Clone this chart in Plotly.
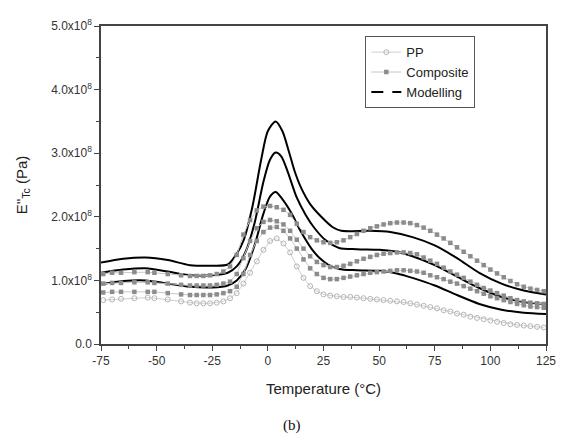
import plotly.graph_objects as go

# ---- data (E'' in units of 1e8 Pa) ----
T_exp = [-74, -70, -66, -60, -54, -51, -45, -39, -35, -32, -29, -26, -23, -20,
         -17, -14, -11, -8, -5, -2, 1, 4, 7, 10, 13, 16, 19, 22, 25, 28, 31, 34,
         37, 40, 43, 46, 49, 52, 55, 58, 61, 64, 67, 70, 73, 76, 79, 82, 85, 88,
         91, 94, 97, 100, 103, 106, 109, 112, 115, 118, 121, 124]

pp = [0.69, 0.70, 0.71, 0.72, 0.73, 0.72, 0.70, 0.67, 0.65, 0.64, 0.64, 0.64, 0.65, 0.67,
      0.72, 0.80, 0.95, 1.12, 1.30, 1.48, 1.62, 1.66, 1.58, 1.44, 1.22, 1.04, 0.91, 0.83,
      0.78, 0.76, 0.75, 0.74, 0.74, 0.73, 0.72, 0.71, 0.70, 0.69, 0.68, 0.67, 0.66, 0.64,
      0.62, 0.60, 0.58, 0.56, 0.53, 0.51, 0.48, 0.46, 0.43, 0.41, 0.39, 0.37, 0.35, 0.33,
      0.31, 0.30, 0.29, 0.28, 0.27, 0.26]

comp_low = [0.81, 0.82, 0.82, 0.82, 0.82, 0.82, 0.80, 0.78, 0.77, 0.77, 0.77, 0.77, 0.78, 0.80,
            0.83, 0.90, 1.10, 1.40, 1.62, 1.76, 1.83, 1.84, 1.78, 1.66, 1.50, 1.33, 1.19, 1.10,
            1.04, 1.02, 1.02, 1.04, 1.06, 1.08, 1.10, 1.12, 1.13, 1.14, 1.15, 1.16, 1.16, 1.15,
            1.14, 1.12, 1.08, 1.05, 1.02, 0.98, 0.95, 0.91, 0.87, 0.83, 0.79, 0.75, 0.72, 0.69,
            0.66, 0.63, 0.61, 0.59, 0.58, 0.57]

comp_mid = [0.95, 0.96, 0.96, 0.97, 0.97, 0.96, 0.95, 0.93, 0.92, 0.92, 0.92, 0.92, 0.93, 0.95,
            0.98, 1.10, 1.35, 1.62, 1.82, 1.92, 1.95, 1.93, 1.88, 1.78, 1.64, 1.50, 1.38, 1.29,
            1.24, 1.21, 1.21, 1.23, 1.26, 1.30, 1.34, 1.37, 1.40, 1.42, 1.43, 1.44, 1.44, 1.43,
            1.41, 1.36, 1.31, 1.26, 1.20, 1.14, 1.09, 1.04, 0.98, 0.93, 0.88, 0.84, 0.80, 0.76,
            0.72, 0.69, 0.67, 0.65, 0.64, 0.63]

comp_high = [1.10, 1.12, 1.12, 1.13, 1.13, 1.12, 1.10, 1.08, 1.07, 1.07, 1.07, 1.08, 1.10, 1.14,
             1.22, 1.40, 1.72, 1.95, 2.10, 2.16, 2.17, 2.15, 2.11, 2.03, 1.89, 1.76, 1.68, 1.63,
             1.60, 1.59, 1.60, 1.63, 1.68, 1.73, 1.78, 1.82, 1.85, 1.88, 1.90, 1.91, 1.91, 1.90,
             1.87, 1.83, 1.78, 1.72, 1.66, 1.59, 1.52, 1.45, 1.38, 1.31, 1.24, 1.17, 1.11, 1.05,
             0.99, 0.94, 0.90, 0.87, 0.85, 0.83]

T_m3 = [-75, -65, -55, -45, -35, -25, -18, -14, -11, -7, -3, 0, 3.5, 6.5, 9.5, 12, 15, 19, 24, 29,
        33, 45, 55, 65, 75, 85, 95, 105, 115, 125]
mod_high = [1.28, 1.34, 1.36, 1.32, 1.24, 1.23, 1.25, 1.42, 1.62, 2.15, 2.90, 3.35, 3.50, 3.35, 3.02,
            2.72, 2.45, 2.20, 2.00, 1.84, 1.78, 1.78, 1.76, 1.68, 1.55, 1.35, 1.12, 0.95, 0.84, 0.78]

T_m2 = [-75, -65, -55, -45, -35, -25, -18, -14, -10, -6, -2, 1, 3.5, 6, 9, 13, 17, 21, 26, 32,
        40, 50, 58, 65, 75, 85, 95, 105, 115, 125]
mod_mid = [1.12, 1.17, 1.19, 1.14, 1.08, 1.08, 1.12, 1.22, 1.45, 1.90, 2.55, 2.90, 3.01, 2.95, 2.70,
           2.30, 2.03, 1.82, 1.63, 1.51, 1.49, 1.48, 1.45, 1.38, 1.24, 1.06, 0.88, 0.74, 0.66, 0.63]

T_m1 = [-75, -65, -55, -45, -35, -25, -18, -14, -10, -6, -2, 1, 3.5, 6, 10.7, 14, 17, 20, 23, 27,
        32, 40, 50, 58, 65, 75, 85, 95, 105, 115, 125]
mod_low = [0.94, 0.99, 1.00, 0.95, 0.90, 0.89, 0.92, 1.00, 1.18, 1.55, 2.05, 2.32, 2.39, 2.30, 2.05,
           1.82, 1.64, 1.48, 1.36, 1.25, 1.18, 1.16, 1.15, 1.11, 1.04, 0.92, 0.77, 0.63, 0.54, 0.49, 0.47]

x_ticks = [-75, -50, -25, 0, 25, 50, 75, 100, 125]
x_ticktext = ["-75", "-50", "-25", "0", "25", "50", "75", "100", "125"]
y_ticks = [0, 1, 2, 3, 4, 5]
y_ticktext = ["0.0", "1.0x10<sup>8</sup>", "2.0x10<sup>8</sup>", "3.0x10<sup>8</sup>",
              "4.0x10<sup>8</sup>", "5.0x10<sup>8</sup>"]

SCALE = 1e8
sc = lambda arr: [v * SCALE for v in arr]

fig = go.Figure()

PP_COLOR = "#b4b4b4"
COMP_COLOR = "#8c8c8c"

# Modelling curves
for tx, ty in [(T_m1, mod_low), (T_m2, mod_mid), (T_m3, mod_high)]:
    fig.add_trace(go.Scatter(x=tx, y=sc(ty), mode="lines",
                             line=dict(color="black", width=2, shape="spline", smoothing=0.8),
                             showlegend=False, name="Modelling"))

# Composite curves
for cy in [comp_low, comp_mid, comp_high]:
    fig.add_trace(go.Scatter(x=T_exp, y=sc(cy), mode="lines+markers",
                             line=dict(color="#c8c8c8", width=1),
                             marker=dict(symbol="square", size=4.5, color=COMP_COLOR),
                             showlegend=False, name="Composite"))

# PP curve
fig.add_trace(go.Scatter(x=T_exp, y=sc(pp), mode="lines+markers",
                         line=dict(color="#cfcfcf", width=1),
                         marker=dict(symbol="circle-open", size=5, color=PP_COLOR, line=dict(width=1)),
                         showlegend=False, name="PP"))

# legend entries
fig.add_trace(go.Scatter(x=[None], y=[None], mode="lines+markers", name="PP",
                         line=dict(color="#cfcfcf", width=1),
                         marker=dict(symbol="circle-open", size=5, color=PP_COLOR, line=dict(width=1))))
fig.add_trace(go.Scatter(x=[None], y=[None], mode="lines+markers", name="Composite",
                         line=dict(color="#c8c8c8", width=1),
                         marker=dict(symbol="square", size=4.5, color=COMP_COLOR)))
fig.add_trace(go.Scatter(x=[None], y=[None], mode="lines", name="Modelling",
                         line=dict(color="black", width=2, dash="12px,9px")))

axis_common = dict(showline=True, linecolor="#444", linewidth=1.5, mirror=True,
                   ticks="outside", ticklen=5, tickwidth=1.2, tickcolor="#444",
                   showgrid=False, zeroline=False,
                   tickfont=dict(family="Liberation Sans, Arial", size=12, color="#333"))

fig.update_layout(
    width=557, height=434,
    margin=dict(l=93, r=16, t=9, b=98),
    paper_bgcolor="white", plot_bgcolor="white",
    font=dict(family="Liberation Sans, Arial", color="#222"),
    xaxis=dict(range=[-75, 125], tickvals=x_ticks, ticktext=x_ticktext,
               title=dict(text="Temperature (°C)", font=dict(size=15, color="#222"), standoff=16),
               minor=dict(ticks="outside", ticklen=3, dtick=12.5, tickcolor="#444"),
               **axis_common),
    yaxis=dict(range=[0, 5 * SCALE], tickvals=[v * SCALE for v in y_ticks], ticktext=y_ticktext,
               title=dict(text="E''<sub>Tc</sub> (Pa)", font=dict(size=15, color="#222"), standoff=20),
               minor=dict(ticks="outside", ticklen=3, dtick=0.5 * SCALE, tickcolor="#444"),
               **axis_common),
    legend=dict(x=0.594, y=0.968, xanchor="left", yanchor="top",
                bordercolor="#555", borderwidth=1, bgcolor="white",
                font=dict(family="Liberation Sans, Arial", size=13, color="#222"),
                itemwidth=30, tracegroupgap=0),
    annotations=[dict(text="(b)", xref="paper", yref="paper", x=0.429, y=-0.257,
                      xanchor="center", yanchor="middle", showarrow=False,
                      font=dict(family="Liberation Serif, Times New Roman", size=15, color="#111"))],
)

fig.write_html("out.html")
